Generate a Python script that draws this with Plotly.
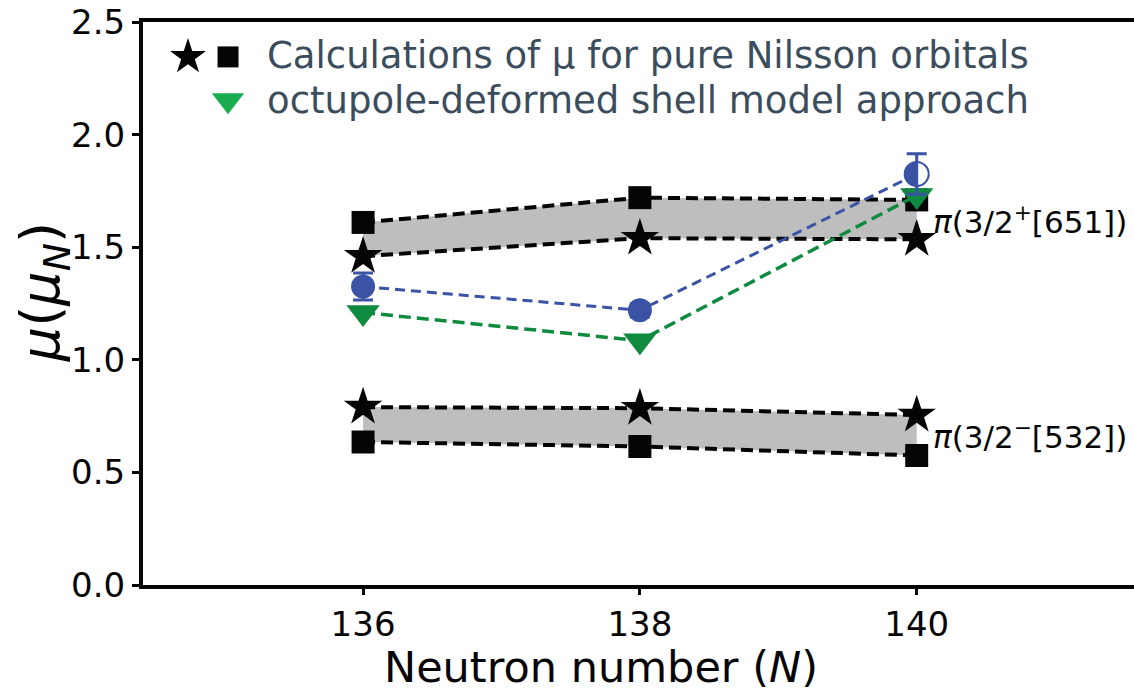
import plotly.graph_objects as go

# Neutron numbers
N = [136, 138, 140]

# Nilsson-orbital calculations, pi(3/2+[651])
upper_square = [1.61, 1.72, 1.71]
upper_star = [1.46, 1.54, 1.535]
# Nilsson-orbital calculations, pi(3/2-[532])
lower_star = [0.79, 0.785, 0.755]
lower_square = [0.635, 0.615, 0.575]

# Measured moments with uncertainties
measured = [1.325, 1.22, 1.825]
measured_err = [0.06, 0.03, 0.09]

# Octupole-deformed shell model approach
octupole = [1.21, 1.085, 1.73]

BLACK = "#050505"
GREY = "#bebebe"
BLUE = "#3a53a4"
GREEN = "#0f8a3e"
LEGEND_GREEN = "#1aad4f"
TEXT = "#3b4d5c"
FONT = "DejaVu Sans"

fig = go.Figure()

dash_black = dict(color=BLACK, width=4, dash="12px,6px")


def band(lower, upper, lower_sym, upper_sym):
    fig.add_trace(go.Scatter(
        x=N, y=lower, mode="lines", line=dash_black, showlegend=False,
        hoverinfo="skip"))
    fig.add_trace(go.Scatter(
        x=N, y=upper, mode="lines", line=dash_black, fill="tonexty",
        fillcolor=GREY, showlegend=False, hoverinfo="skip"))
    fig.add_trace(go.Scatter(
        x=N, y=lower, mode="markers", showlegend=False,
        marker=dict(symbol=lower_sym, size=29 if lower_sym == "star" else 23,
                    color=BLACK, line=dict(width=0))))
    fig.add_trace(go.Scatter(
        x=N, y=upper, mode="markers", showlegend=False,
        marker=dict(symbol=upper_sym, size=29 if upper_sym == "star" else 23,
                    color=BLACK, line=dict(width=0))))


band(upper_star, upper_square, "star", "square")
band(lower_square, lower_star, "square", "star")

# Octupole-deformed shell model
fig.add_trace(go.Scatter(
    x=N, y=octupole, mode="lines+markers", showlegend=False,
    line=dict(color=GREEN, width=3.5, dash="12px,6px"),
    marker=dict(symbol="triangle-down", size=29, color=GREEN,
                line=dict(width=0))))

# Measured values: filled circles, the last one drawn half-filled
fill_cols = [BLUE, BLUE, "rgba(0,0,0,0)"]
fig.add_trace(go.Scatter(
    x=N, y=measured, mode="lines+markers", showlegend=False,
    line=dict(color=BLUE, width=3, dash="10px,6px"),
    error_y=dict(type="data", array=measured_err, color=BLUE,
                 thickness=3, width=10),
    marker=dict(symbol="circle", size=24, color=fill_cols,
                line=dict(color=BLUE, width=[0, 0, 2]))))

# Left half of the last measured circle (cubic-bezier half disc)
r = 12.0
k = 0.5523 * r
half_disc = (f"M 0,{-r} C {-k},{-r} {-r},{-k} {-r},0 "
             f"C {-r},{k} {-k},{r} 0,{r} Z")
fig.add_shape(
    type="path", xref="x", yref="y",
    xsizemode="pixel", ysizemode="pixel",
    xanchor=N[-1], yanchor=measured[-1],
    path=half_disc, fillcolor=BLUE, line=dict(width=0), layer="above")

# Legend drawn on an overlay axis spanning the plot area
fig.add_trace(go.Scatter(
    x=[0.0454], y=[0.938], xaxis="x2", yaxis="y2", mode="markers",
    showlegend=False, hoverinfo="skip",
    marker=dict(symbol="star", size=27, color=BLACK, line=dict(width=0))))
fig.add_trace(go.Scatter(
    x=[0.0858], y=[0.938], xaxis="x2", yaxis="y2", mode="markers",
    showlegend=False, hoverinfo="skip",
    marker=dict(symbol="square", size=21, color=BLACK, line=dict(width=0))))
fig.add_trace(go.Scatter(
    x=[0.0858], y=[0.861], xaxis="x2", yaxis="y2", mode="markers",
    showlegend=False, hoverinfo="skip",
    marker=dict(symbol="triangle-down", size=28, color=LEGEND_GREEN,
                line=dict(width=0))))

annotations = [
    dict(xref="paper", yref="paper", x=0.123, y=0.94, xanchor="left",
         yanchor="middle", showarrow=False,
         text="Calculations of μ for pure Nilsson orbitals",
         font=dict(family=FONT, size=37, color=TEXT)),
    dict(xref="paper", yref="paper", x=0.123, y=0.861, xanchor="left",
         yanchor="middle", showarrow=False,
         text="octupole-deformed shell model approach",
         font=dict(family=FONT, size=37, color=TEXT)),
    dict(xref="x", yref="y", x=N[-1], y=(upper_square[-1] + upper_star[-1]) / 2,
         xanchor="left", yanchor="middle", xshift=14, showarrow=False,
         text="<i>π</i>(3/2<sup>+</sup>[651])",
         font=dict(family=FONT, size=31, color=BLACK)),
    dict(xref="x", yref="y", x=N[-1], y=(lower_star[-1] + lower_square[-1]) / 2,
         xanchor="left", yanchor="middle", xshift=14, showarrow=False,
         text="<i>π</i>(3/2<sup>−</sup>[532])",
         font=dict(family=FONT, size=31, color=BLACK)),
    dict(xref="paper", yref="paper", x=-0.1, y=0.52, xanchor="center",
         yanchor="middle", showarrow=False, textangle=-90,
         text="<i>μ</i>(<i>μ</i><sub><i>N</i></sub>)",
         font=dict(family=FONT, size=54, color=BLACK)),
    dict(xref="paper", yref="paper", x=0.462, y=-0.145, xanchor="center",
         yanchor="middle", showarrow=False,
         text="Neutron number (<i>N</i>)",
         font=dict(family=FONT, size=43, color=BLACK)),
]

fig.update_layout(
    width=1134, height=692,
    margin=dict(l=143, r=0, t=22, b=107),
    paper_bgcolor="white", plot_bgcolor="white",
    annotations=annotations,
    xaxis=dict(range=[134.41, 141.57], tickvals=N, ticktext=[str(v) for v in N],
               showgrid=False, zeroline=False, showline=True, mirror=True,
               linecolor=BLACK, linewidth=4, ticks="outside", ticklen=6,
               tickwidth=3, tickcolor=BLACK,
               tickfont=dict(family=FONT, size=34, color=BLACK)),
    yaxis=dict(range=[0, 2.5], tickvals=[0, 0.5, 1.0, 1.5, 2.0, 2.5],
               tickformat=".1f", showgrid=False, zeroline=False,
               showline=True, linecolor=BLACK, linewidth=4,
               ticks="outside", ticklen=7, tickwidth=3, tickcolor=BLACK,
               tickfont=dict(family=FONT, size=34, color=BLACK)),
    xaxis2=dict(overlaying="x", range=[0, 1], visible=False),
    yaxis2=dict(overlaying="y", range=[0, 1], visible=False),
)

fig.write_html("out.html")
